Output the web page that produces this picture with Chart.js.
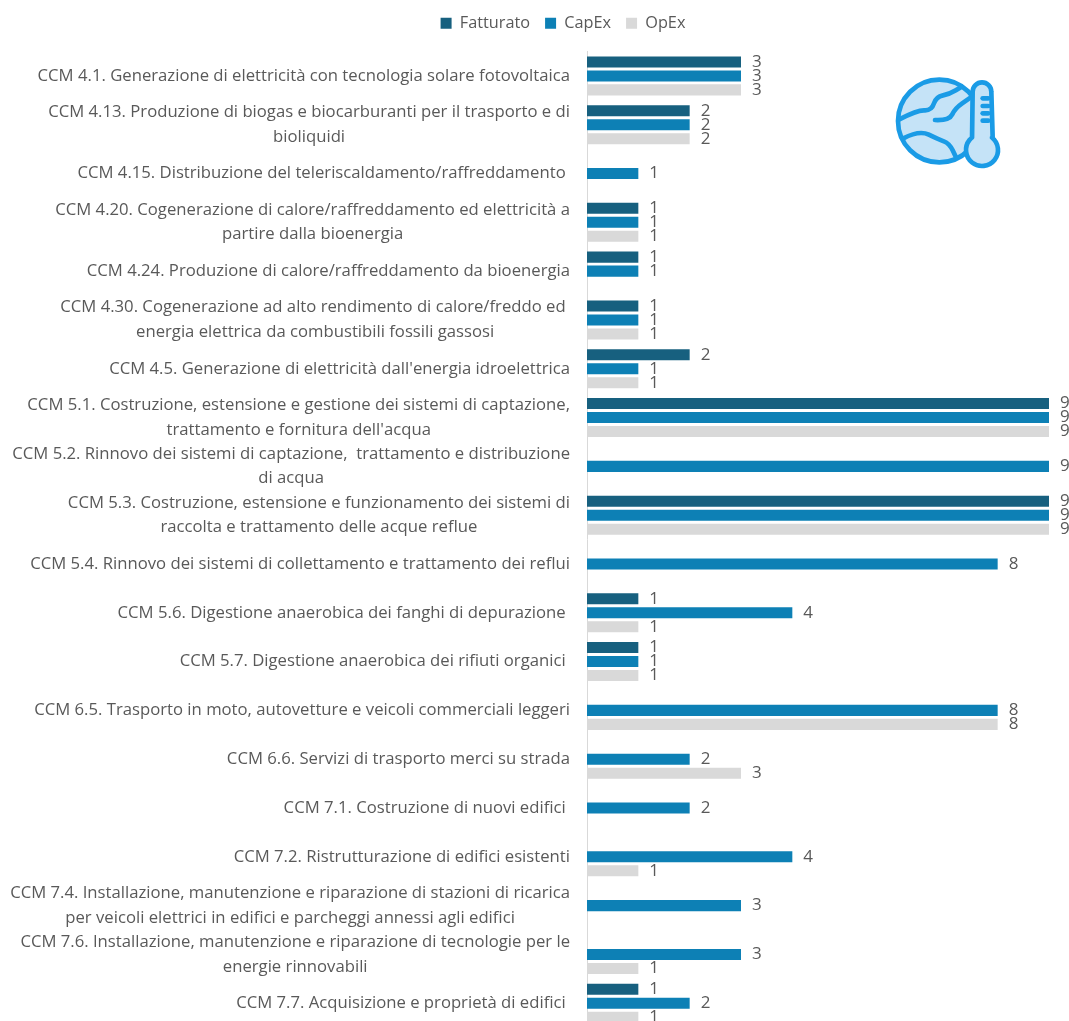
<!DOCTYPE html>
<html lang="it">
<head>
<meta charset="utf-8">
<title>Attività CCM</title>
<style>
html,body{margin:0;padding:0;background:#fff;overflow:hidden;width:1069px;height:1021px}
canvas{display:block}
</style>
<script src="https://cdn.jsdelivr.net/npm/chart.js@4"></script>
</head>
<body>
<canvas id="c" width="1128" height="1057"></canvas>
<script>
const categories = [
  ["CCM 4.1. Generazione di elettricità con tecnologia solare fotovoltaica"],
  ["CCM 4.13. Produzione di biogas e biocarburanti per il trasporto e di","bioliquidi"],
  ["CCM 4.15. Distribuzione del teleriscaldamento/raffreddamento "],
  ["CCM 4.20. Cogenerazione di calore/raffreddamento ed elettricità a","partire dalla bioenergia"],
  ["CCM 4.24. Produzione di calore/raffreddamento da bioenergia"],
  ["CCM 4.30. Cogenerazione ad alto rendimento di calore/freddo ed ","energia elettrica da combustibili fossili gassosi"],
  ["CCM 4.5. Generazione di elettricità dall'energia idroelettrica"],
  ["CCM 5.1. Costruzione, estensione e gestione dei sistemi di captazione,","trattamento e fornitura dell'acqua"],
  ["CCM 5.2. Rinnovo dei sistemi di captazione,  trattamento e distribuzione","di acqua"],
  ["CCM 5.3. Costruzione, estensione e funzionamento dei sistemi di","raccolta e trattamento delle acque reflue"],
  ["CCM 5.4. Rinnovo dei sistemi di collettamento e trattamento dei reflui"],
  ["CCM 5.6. Digestione anaerobica dei fanghi di depurazione "],
  ["CCM 5.7. Digestione anaerobica dei rifiuti organici "],
  ["CCM 6.5. Trasporto in moto, autovetture e veicoli commerciali leggeri"],
  ["CCM 6.6. Servizi di trasporto merci su strada"],
  ["CCM 7.1. Costruzione di nuovi edifici "],
  ["CCM 7.2. Ristrutturazione di edifici esistenti"],
  ["CCM 7.4. Installazione, manutenzione e riparazione di stazioni di ricarica","per veicoli elettrici in edifici e parcheggi annessi agli edifici"],
  ["CCM 7.6. Installazione, manutenzione e riparazione di tecnologie per le","energie rinnovabili"],
  ["CCM 7.7. Acquisizione e proprietà di edifici "]
];
const fatturato = [3,2,null,1,1,1,2,9,null,9,null,1,1,null,null,null,null,null,null,1];
const capex     = [3,2,1,1,1,1,1,9,9,9,8,4,1,8,2,2,4,3,3,2];
const opex      = [3,2,null,1,null,1,1,9,null,9,null,1,1,8,3,null,1,null,1,1];

const FONT = '"Open Sans", sans-serif';
const GREY = '#595959';

const centerLines = {
  id: 'centerLines',
  beforeInit(chart) {
    const fit = chart.legend.fit;
    chart.legend.fit = function () { fit.call(this); this.height += 10.2; };
  },
  beforeDraw(chart) {
    const s = chart.scales.y, ctx = chart.ctx;
    ctx.save();
    for (const it of s.getLabelItems()) {
      ctx.font = it.font.string;
      const w = Math.max(...[].concat(it.label).map(t => ctx.measureText(t).width));
      it.options.textAlign = 'center';
      it.options.translation = [s.right - s.options.ticks.padding - w / 2, it.options.translation[1]];
    }
    ctx.restore();
  }
};

const valueLabels = {
  id: 'valueLabels',
  afterDatasetsDraw(chart) {
    const ctx = chart.ctx;
    ctx.save();
    ctx.font = '17px ' + FONT;
    ctx.fillStyle = GREY;
    ctx.textAlign = 'left';
    ctx.textBaseline = 'middle';
    chart.data.datasets.forEach((ds, i) => {
      chart.getDatasetMeta(i).data.forEach((bar, j) => {
        if (ds.data[j] != null) ctx.fillText(String(ds.data[j]), bar.x + 11, bar.y);
      });
    });
    ctx.restore();
  }
};

const icon = {
  id: 'icon',
  afterDraw(chart) {
    const ctx = chart.ctx, blue = '#1a9be6', pale = '#c5e3f7';
    ctx.save();
    ctx.translate(860, 50);
    ctx.scale(1 / 3, 1 / 3);
    ctx.lineWidth = 14;
    ctx.lineCap = 'round';
    ctx.lineJoin = 'round';
    ctx.strokeStyle = blue;
    ctx.fillStyle = pale;
    ctx.beginPath();
    ctx.arc(238, 213, 124, 0, Math.PI * 2);
    ctx.fill();
    ctx.stroke();
    const curve = pts => {
      ctx.beginPath();
      ctx.moveTo(pts[0][0], pts[0][1]);
      for (let i = 1; i < pts.length - 1; i++) {
        const mx = (pts[i][0] + pts[i + 1][0]) / 2, my = (pts[i][1] + pts[i + 1][1]) / 2;
        ctx.quadraticCurveTo(pts[i][0], pts[i][1], mx, my);
      }
      ctx.lineTo(pts[pts.length - 1][0], pts[pts.length - 1][1]);
      ctx.stroke();
    };
    curve([[118,208],[172,180],[215,182],[228,140],[270,132],[305,110]]);
    curve([[225,210],[268,212],[285,175],[328,145]]);
    curve([[130,265],[178,240],[235,268],[268,280],[288,322]]);
    ctx.beginPath();
    ctx.moveTo(338, 125);
    ctx.arc(366, 125, 28, Math.PI, 0);
    ctx.lineTo(398, 262);
    ctx.arc(366, 300, 48, -0.9, Math.PI + 0.9);
    ctx.closePath();
    ctx.fill();
    ctx.stroke();
    for (const y of [145, 168, 190, 212]) {
      ctx.beginPath();
      ctx.moveTo(368, y);
      ctx.lineTo(385, y);
      ctx.stroke();
    }
    ctx.restore();
  }
};

new Chart(document.getElementById('c'), {
  type: 'bar',
  data: {
    labels: categories,
    datasets: [
      { label: 'Fatturato', data: fatturato, backgroundColor: '#17607f' },
      { label: 'CapEx', data: capex, backgroundColor: '#0d80b5' },
      { label: 'OpEx', data: opex, backgroundColor: '#d9d9d9' }
    ]
  },
  options: {
    indexAxis: 'y',
    responsive: false,
    animation: false,
    layout: { padding: { right: 2 } },
    datasets: { bar: { categoryPercentage: 0.86, barPercentage: 0.79 } },
    plugins: {
      tooltip: { enabled: false },
      legend: {
        position: 'top',
        labels: { boxWidth: 11, boxHeight: 11, padding: 15, color: GREY, font: { family: FONT, size: 16.3 } }
      }
    },
    scales: {
      x: { display: false, min: 0, max: 10.5 },
      y: {
        grid: { display: false, drawTicks: false },
        border: { color: '#d9d9d9', width: 1 },
        ticks: { color: GREY, padding: 17, autoSkip: false, font: { family: FONT, size: 16.7, lineHeight: 1.48 } },
        afterFit(s) { s.width = 587; }
      }
    }
  },
  plugins: [centerLines, valueLabels, icon]
});
</script>
</body>
</html>
